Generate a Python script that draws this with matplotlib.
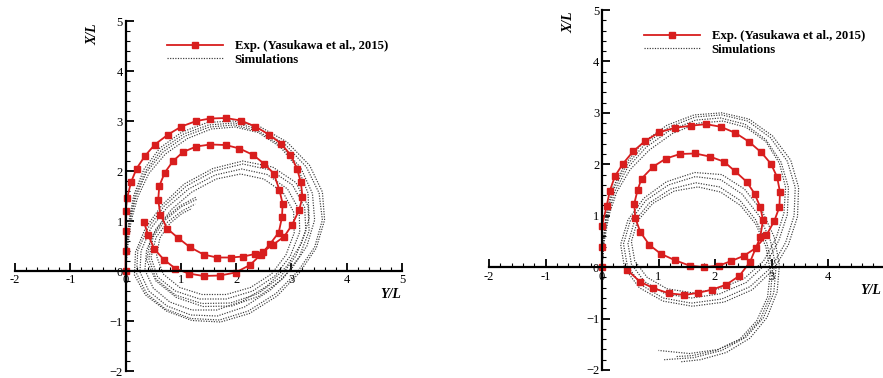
import matplotlib
matplotlib.use("Agg")
from matplotlib import pyplot as plt
from matplotlib.ticker import MultipleLocator, FuncFormatter

plt.rcParams['font.family'] = ['Liberation Serif', 'DejaVu Serif']

# ---- left case: experiment (Yasukawa et al., 2015) ----
left_exp_x = [0, 0, 0, 0, 0.03, 0.10, 0.20, 0.35, 0.53, 0.77, 1.01, 1.28, 1.53, 1.81, 2.08, 2.35,
              2.59, 2.81, 2.98, 3.10, 3.17, 3.20, 3.14, 3.01, 2.87, 2.66, 2.49, 2.34, 2.13, 1.90,
              1.65, 1.41, 1.16, 0.94, 0.75, 0.63, 0.59, 0.61, 0.71, 0.86, 1.04, 1.28, 1.53, 1.81,
              2.06, 2.31, 2.50, 2.68, 2.78, 2.84, 2.83, 2.77, 2.62, 2.45, 2.25, 1.99, 1.71, 1.41,
              1.14, 0.90, 0.69, 0.52, 0.41, 0.33]
left_exp_y = [0, 0.40, 0.80, 1.20, 1.47, 1.78, 2.05, 2.30, 2.53, 2.73, 2.89, 3.00, 3.05, 3.06,
              3.01, 2.89, 2.73, 2.55, 2.33, 2.05, 1.78, 1.48, 1.22, 0.92, 0.69, 0.52, 0.39, 0.34,
              0.29, 0.27, 0.27, 0.33, 0.48, 0.67, 0.85, 1.13, 1.42, 1.70, 1.97, 2.20, 2.38, 2.49,
              2.53, 2.52, 2.45, 2.32, 2.15, 1.95, 1.63, 1.35, 1.08, 0.77, 0.55, 0.33, 0.12, -0.03,
              -0.09, -0.10, -0.05, 0.05, 0.23, 0.44, 0.72, 0.98]

# ---- left case: simulations ----
left_sim1_x = [0, 0.02, 0.07, 0.17, 0.36, 0.65, 1.05, 1.50, 1.95, 2.42, 2.88, 3.27, 3.50, 3.56,
               3.42, 3.12, 2.72, 2.22, 1.70, 1.18, 0.72, 0.38, 0.20, 0.22, 0.40, 0.70, 1.10, 1.60,
               2.12, 2.62, 3.02, 3.24, 3.26, 3.08, 2.80, 2.40, 1.90, 1.38, 0.90, 0.55, 0.42, 0.50,
               0.72, 1.00, 1.30]
left_sim1_y = [0, 0.50, 1.00, 1.50, 2.00, 2.42, 2.74, 2.92, 2.96, 2.84, 2.54, 2.08, 1.56, 1.02,
               0.48, 0.00, -0.45, -0.80, -0.98, -0.95, -0.76, -0.45, -0.05, 0.40, 0.85, 1.30, 1.70,
               2.00, 2.14, 2.02, 1.72, 1.27, 0.80, 0.30, -0.12, -0.45, -0.64, -0.65, -0.48, -0.16,
               0.25, 0.68, 1.02, 1.28, 1.44]
left_sim2_x = [0, 0.03, 0.08, 0.19, 0.38, 0.68, 1.08, 1.52, 1.96, 2.40, 2.82, 3.17, 3.38, 3.42,
               3.28, 3.00, 2.62, 2.15, 1.66, 1.18, 0.75, 0.42, 0.26, 0.28, 0.45, 0.75, 1.14, 1.62,
               2.10, 2.56, 2.93, 3.14, 3.15, 2.98, 2.70, 2.30, 1.82, 1.34, 0.90, 0.58, 0.46, 0.55,
               0.76, 1.02, 1.26]
left_sim2_y = [0, 0.50, 1.00, 1.50, 1.98, 2.38, 2.70, 2.88, 2.92, 2.80, 2.50, 2.06, 1.55, 1.02,
               0.50, 0.04, -0.38, -0.72, -0.90, -0.88, -0.70, -0.40, -0.02, 0.40, 0.84, 1.27, 1.64,
               1.92, 2.04, 1.93, 1.64, 1.22, 0.78, 0.30, -0.10, -0.40, -0.56, -0.56, -0.40, -0.12,
               0.27, 0.67, 0.98, 1.20, 1.34]
left_sim3_x = [0, 0.04, 0.10, 0.22, 0.42, 0.72, 1.12, 1.55, 1.98, 2.40, 2.80, 3.12, 3.30, 3.32,
               3.18, 2.92, 2.56, 2.12, 1.65, 1.20, 0.80, 0.50, 0.35, 0.38, 0.55, 0.84, 1.20, 1.64,
               2.08, 2.50, 2.85, 3.04, 3.05, 2.90, 2.64, 2.26, 1.82, 1.38, 0.98, 0.68, 0.56, 0.62,
               0.80, 1.02, 1.20]
left_sim3_y = [0, 0.50, 1.00, 1.48, 1.95, 2.34, 2.65, 2.84, 2.88, 2.77, 2.48, 2.05, 1.56, 1.05,
               0.55, 0.10, -0.30, -0.60, -0.78, -0.78, -0.62, -0.34, 0.02, 0.42, 0.84, 1.24, 1.58,
               1.84, 1.94, 1.84, 1.57, 1.18, 0.76, 0.32, -0.06, -0.33, -0.47, -0.47, -0.33, -0.06,
               0.30, 0.66, 0.95, 1.15, 1.25]
left_sim4_x = [0, 0.02, 0.06, 0.15, 0.33, 0.62, 1.02, 1.48, 1.94, 2.44, 2.92, 3.33, 3.56, 3.60,
               3.45, 3.14, 2.74, 2.24, 1.72, 1.20, 0.74, 0.36, 0.16, 0.18, 0.36, 0.66, 1.06, 1.58,
               2.12, 2.66, 3.08, 3.30, 3.32, 3.14, 2.84, 2.42, 1.92, 1.40, 0.92, 0.55, 0.38, 0.46,
               0.68, 0.98, 1.28]
left_sim4_y = [0, 0.50, 1.00, 1.52, 2.03, 2.46, 2.78, 2.97, 3.00, 2.88, 2.58, 2.11, 1.58, 1.02,
               0.46, -0.04, -0.50, -0.85, -1.02, -0.99, -0.80, -0.48, -0.08, 0.38, 0.86, 1.32, 1.74,
               2.05, 2.20, 2.08, 1.77, 1.30, 0.80, 0.28, -0.16, -0.50, -0.70, -0.71, -0.53, -0.20,
               0.22, 0.66, 1.02, 1.30, 1.48]

# ---- right case: experiment ----
right_exp_x = [0, 0, 0, 0.08, 0.14, 0.23, 0.37, 0.55, 0.76, 1.01, 1.29, 1.57, 1.84, 2.10, 2.36,
               2.60, 2.82, 2.99, 3.10, 3.15, 3.14, 3.05, 2.91, 2.72, 2.51, 2.29, 2.07, 1.81, 1.55,
               1.30, 1.04, 0.84, 0.68, 0.59, 0.57, 0.63, 0.70, 0.90, 1.13, 1.38, 1.65, 1.91, 2.16,
               2.36, 2.56, 2.70, 2.80, 2.85, 2.80, 2.62, 2.43, 2.20, 1.94, 1.70, 1.46, 1.19, 0.91,
               0.67, 0.44]
right_exp_y = [0, 0.40, 0.80, 1.18, 1.49, 1.77, 2.01, 2.25, 2.45, 2.62, 2.71, 2.75, 2.78, 2.73,
               2.61, 2.44, 2.23, 2.01, 1.75, 1.46, 1.17, 0.90, 0.62, 0.37, 0.22, 0.12, 0.03, 0.00,
               0.03, 0.13, 0.26, 0.43, 0.68, 0.95, 1.23, 1.50, 1.72, 1.95, 2.11, 2.20, 2.21, 2.15,
               2.05, 1.86, 1.66, 1.43, 1.17, 0.92, 0.58, 0.10, -0.17, -0.34, -0.44, -0.50, -0.54,
               -0.51, -0.41, -0.28, -0.05]

# ---- right case: simulations ----
right_sim1_x = [0, 0.02, 0.08, 0.20, 0.42, 0.75, 1.18, 1.65, 2.12, 2.58, 2.98, 3.28, 3.42, 3.40,
                3.25, 3.00, 2.62, 2.12, 1.58, 1.08, 0.70, 0.45, 0.38, 0.50, 0.78, 1.18, 1.65, 2.10,
                2.48, 2.78, 2.98, 3.08, 3.04, 2.86, 2.55, 2.12, 1.62, 1.10]
right_sim1_y = [0, 0.50, 1.00, 1.50, 1.96, 2.38, 2.72, 2.92, 2.96, 2.84, 2.52, 2.06, 1.55, 1.00,
                0.48, 0.00, -0.38, -0.62, -0.70, -0.60, -0.35, 0.02, 0.45, 0.90, 1.30, 1.60, 1.76,
                1.70, 1.42, 1.00, 0.52, 0.00, -0.50, -0.98, -1.36, -1.62, -1.76, -1.80]
right_sim2_x = [0, 0.03, 0.10, 0.23, 0.45, 0.78, 1.20, 1.66, 2.10, 2.53, 2.90, 3.17, 3.30, 3.28,
                3.13, 2.90, 2.55, 2.08, 1.58, 1.12, 0.75, 0.52, 0.46, 0.57, 0.84, 1.22, 1.66, 2.08,
                2.44, 2.72, 2.92, 3.02, 2.98, 2.80, 2.50, 2.06, 1.55, 1.00]
right_sim2_y = [0, 0.50, 1.00, 1.48, 1.93, 2.33, 2.66, 2.86, 2.90, 2.78, 2.48, 2.04, 1.55, 1.02,
                0.52, 0.06, -0.30, -0.52, -0.60, -0.52, -0.28, 0.06, 0.46, 0.88, 1.25, 1.52, 1.64,
                1.56, 1.30, 0.92, 0.46, -0.04, -0.55, -1.02, -1.38, -1.60, -1.68, -1.62]
right_sim3_x = [0, 0.04, 0.12, 0.26, 0.50, 0.84, 1.25, 1.70, 2.14, 2.55, 2.90, 3.14, 3.25, 3.22,
                3.08, 2.86, 2.52, 2.08, 1.60, 1.15, 0.80, 0.58, 0.52, 0.63, 0.90, 1.28, 1.70, 2.10,
                2.45, 2.72, 2.90, 2.98, 2.93, 2.74, 2.44, 2.02, 1.60, 1.30]
right_sim3_y = [0, 0.50, 1.00, 1.46, 1.90, 2.28, 2.60, 2.80, 2.84, 2.72, 2.44, 2.02, 1.55, 1.05,
                0.56, 0.12, -0.22, -0.42, -0.50, -0.42, -0.20, 0.12, 0.50, 0.90, 1.24, 1.48, 1.56,
                1.46, 1.20, 0.84, 0.40, -0.08, -0.58, -1.04, -1.40, -1.62, -1.72, -1.74]
right_sim4_x = [0, 0.02, 0.07, 0.18, 0.40, 0.72, 1.15, 1.63, 2.12, 2.60, 3.02, 3.34, 3.48, 3.46,
                3.30, 3.04, 2.66, 2.16, 1.60, 1.08, 0.66, 0.40, 0.33, 0.46, 0.74, 1.14, 1.64, 2.12,
                2.52, 2.84, 3.05, 3.14, 3.10, 2.92, 2.62, 2.20, 1.74, 1.40]
right_sim4_y = [0, 0.50, 1.00, 1.52, 1.99, 2.42, 2.76, 2.96, 3.00, 2.88, 2.55, 2.08, 1.55, 0.98,
                0.44, -0.04, -0.44, -0.68, -0.76, -0.66, -0.40, -0.02, 0.44, 0.92, 1.34, 1.66, 1.84,
                1.80, 1.52, 1.08, 0.58, 0.04, -0.48, -0.98, -1.38, -1.66, -1.80, -1.84]

EXP_LABEL = 'Exp. (Yasukawa et al., 2015)'
SIM_LABEL = 'Simulations'
red = '#d81e1e'

fig = plt.figure(figsize=(8.83, 3.78), dpi=100)
W, H = 883.0, 378.0


def make_axes(x_m2, x_5, y_5, y_m2):
    # pixel positions of the -2 and 5 ticks -> axes rect in figure fraction
    return fig.add_axes([x_m2 / W, 1 - y_m2 / H, (x_5 - x_m2) / W, (y_m2 - y_5) / H])


def style_axes(ax, xlab_xy, ylab_xy, xmax_label=5):
    ax.set_xlim(-2, 5)
    ax.set_ylim(-2, 5)
    for s in ['top', 'right']:
        ax.spines[s].set_visible(False)
    ax.spines['left'].set_position(('data', 0))
    ax.spines['bottom'].set_position(('data', 0))
    ax.spines['left'].set_linewidth(1.6)
    ax.spines['bottom'].set_linewidth(1.6)
    ax.patch.set_alpha(0)
    ax.xaxis.set_major_locator(MultipleLocator(1))
    ax.xaxis.set_minor_locator(MultipleLocator(0.2))
    ax.yaxis.set_major_locator(MultipleLocator(1))
    ax.yaxis.set_minor_locator(MultipleLocator(0.2))
    ax.xaxis.set_major_formatter(FuncFormatter(
        lambda v, p: '%d' % round(v) if v <= xmax_label + 1e-6 else ''))
    ax.tick_params(which='major', direction='in', length=6, width=1.3, labelsize=9)
    ax.tick_params(which='minor', direction='in', length=3, width=0.8)
    ax.tick_params(axis='x', pad=2.5)
    ax.tick_params(axis='y', pad=2)
    fig.text(xlab_xy[0] / W, 1 - xlab_xy[1] / H, 'Y/L', fontsize=10, fontweight='bold',
             fontstyle='italic', ha='center', va='center')
    fig.text(ylab_xy[0] / W, 1 - ylab_xy[1] / H, 'X/L', fontsize=10, fontweight='bold',
             fontstyle='italic', ha='center', va='center', rotation=90)


def draw(ax, exp_x, exp_y, sims, legend_xy):
    for k, (sx, sy) in enumerate(sims):
        ax.plot(sx, sy, linestyle=(0, (1, 1.2)), color='0.22', linewidth=0.85,
                label=SIM_LABEL if k == 0 else None)
    ax.plot(exp_x, exp_y, color=red, linewidth=1.3, marker='s', markersize=4.6,
            markerfacecolor=red, markeredgecolor=red, label=EXP_LABEL)
    h, l = ax.get_legend_handles_labels()
    order = [l.index(EXP_LABEL), l.index(SIM_LABEL)]
    ax.legend([h[i] for i in order], [l[i] for i in order], loc='upper left',
              bbox_to_anchor=(legend_xy[0] / W, 1 - legend_xy[1] / H),
              bbox_transform=fig.transFigure, frameon=False, borderpad=0,
              borderaxespad=0, handlelength=4.4, handletextpad=0.9, labelspacing=0.12,
              prop={'weight': 'bold', 'size': 9.2})


ax1 = make_axes(15, 402, 21, 371)
style_axes(ax1, (391, 294), (93, 34))
draw(ax1, left_exp_x, left_exp_y,
     [(left_sim1_x, left_sim1_y), (left_sim2_x, left_sim2_y),
      (left_sim3_x, left_sim3_y), (left_sim4_x, left_sim4_y)], (167, 40))

ax2 = make_axes(489, 884.5, 10, 370)
style_axes(ax2, (871, 290), (569, 22), xmax_label=4)
draw(ax2, right_exp_x, right_exp_y,
     [(right_sim1_x, right_sim1_y), (right_sim2_x, right_sim2_y),
      (right_sim3_x, right_sim3_y), (right_sim4_x, right_sim4_y)], (644, 30))

fig.savefig('out.png', dpi=100)
